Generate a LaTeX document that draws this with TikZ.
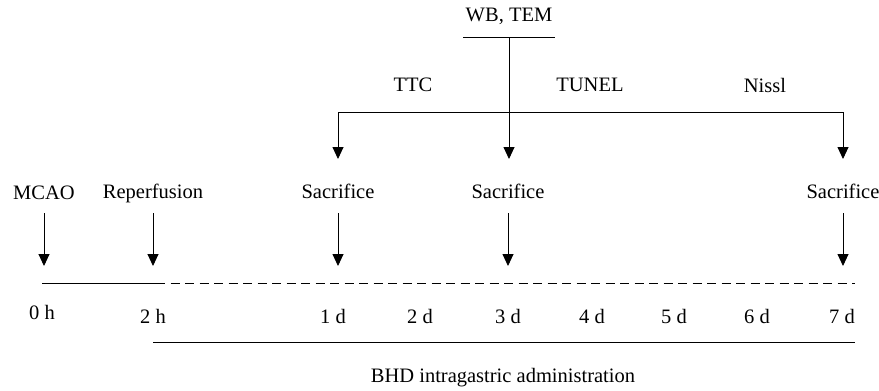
\documentclass[tikz,border=0pt]{standalone}
\usepackage{fontspec}
\setmainfont{Liberation Serif}
\usetikzlibrary{arrows.meta}

\begin{document}
\begin{tikzpicture}[
        x=1pt, y=-1pt,
        line width=0.9pt,
        lbl/.style={font=\fontsize{20.5}{24}\selectfont, inner sep=0pt},
        arr/.style={-{Triangle[length=12pt,width=11pt]}}
      ]
        \useasboundingbox (0,0) rectangle (879,391);

        % event labels
        \node[lbl] (mcao) at (44,193) {MCAO};
        \node[lbl] (rep) at (153,193) {Reperfusion};
        \node[lbl] (sac1) at (338,191) {Sacrifice};
        \node[lbl] (sac3) at (508,191) {Sacrifice};
        \node[lbl] (sac7) at (843,191) {Sacrifice};

        % analyses
        \node[lbl] (wb) at (509,16) {WB, TEM};
        \node[lbl] (ttc) at (413,85) {TTC};
        \node[lbl] (tunel) at (590,85) {TUNEL};
        \node[lbl] (nissl) at (765,85) {Nissl};

        % time points
        \node[lbl] (h0) at (42,312) {0 h};
        \node[lbl] (h2) at (153,316) {2 h};
        \node[lbl] (d1) at (333,316) {1 d};
        \node[lbl] (d2) at (420,316) {2 d};
        \node[lbl] (d3) at (508,316) {3 d};
        \node[lbl] (d4) at (592,316) {4 d};
        \node[lbl] (d5) at (674,316) {5 d};
        \node[lbl] (d6) at (757,316) {6 d};
        \node[lbl] (d7) at (842,316) {7 d};

        \node[lbl] (bhd) at (503,378) {BHD intragastric administration};

        % timeline
        \coordinate (start) at (42,283);
        \coordinate (rp) at (156,283);
        \coordinate (stop) at (855,283);
        \draw (start) -- (rp);
        \draw[dashed, dash pattern=on 9pt off 5.5pt] (rp) -- (stop);

        \coordinate (bs) at (153,342);
        \coordinate (be) at (855,342);
        \draw (bs) -- (be);

        % arrows to the timeline
        \foreach \n/\x in {mcao/44, rep/153, sac1/338, sac3/508, sac7/843} {
          \coordinate (\n top) at (\x,213);
          \coordinate (\n tip) at (\x,266);
          \draw[arr] (\n top) -- (\n tip);
        }

        % branch
        \coordinate (wbl) at (463,37);
        \coordinate (wbr) at (555,37);
        \coordinate (wbm) at (509,37);
        \coordinate (bl) at (338,112);
        \coordinate (br) at (843,112);
        \draw (wbl) -- (wbr);
        \draw (bl) -- (br);
        \draw[arr] (wbm) -- (509,159);
        \draw[arr] (bl) -- (338,159);
        \draw[arr] (br) -- (843,159);
      \end{tikzpicture}
\end{document}
